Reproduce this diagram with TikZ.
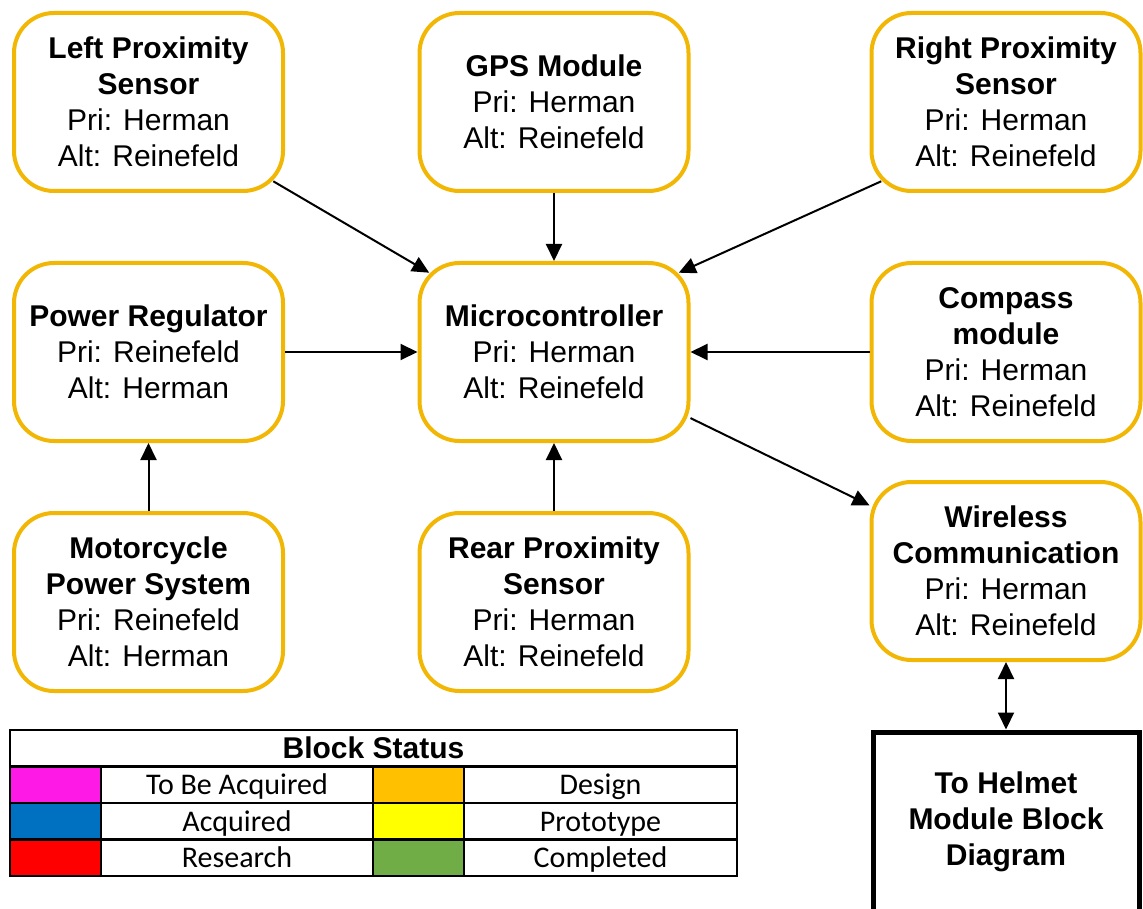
\documentclass[tikz,border=0pt]{standalone}
\usepackage{fontspec}
\setmainfont{Liberation Sans}
\newfontfamily\calib{Carlito}
\usetikzlibrary{arrows.meta,calc}
\definecolor{gold}{RGB}{242,183,5}
\definecolor{stmag}{RGB}{255,25,230}
\definecolor{stblue}{RGB}{0,112,192}
\definecolor{stred}{RGB}{255,0,0}
\definecolor{storange}{RGB}{255,192,0}
\definecolor{styellow}{RGB}{255,255,0}
\definecolor{stgreen}{RGB}{112,173,71}
\begin{document}
\begin{tikzpicture}[x=1pt,y=-1pt,
  blk/.style={draw=gold, line width=4pt, rounded corners=40pt, fill=white,
    minimum width=269pt, minimum height=178pt, align=center, inner sep=0pt,
    font=\fontsize{30}{36}\selectfont},
  con/.style={line width=2pt, -{Triangle[length=17pt,width=16pt]}},
  bicon/.style={line width=2pt, {Triangle[length=17pt,width=16pt]}-{Triangle[length=17pt,width=16pt]}},
  cell/.style={draw=black, line width=2.5pt, outer sep=0pt, inner sep=0pt, anchor=north west,
    minimum height=36.5pt, text height=23pt, text depth=3pt, font=\calib\fontsize{30}{36}\selectfont},
  hm/.style={draw=black, line width=5pt, fill=white, minimum width=266pt, minimum height=180pt,
    align=center, inner sep=0pt, font=\bfseries\fontsize{30}{36}\selectfont}
]
\useasboundingbox (0,0) rectangle (1143,909);
\clip (0,0) rectangle (1143,909);

% blocks
\node[blk] (lp) at (148.5,102) {\textbf{Left Proximity}\\\textbf{Sensor}\\Pri: Herman\\Alt: Reinefeld};
\node[blk] (gps) at (554,102) {\textbf{GPS Module}\\Pri: Herman\\Alt: Reinefeld};
\node[blk] (rp) at (1006,102) {\textbf{Right Proximity}\\\textbf{Sensor}\\Pri: Herman\\Alt: Reinefeld};
\node[blk] (pr) at (148.5,352) {\textbf{Power Regulator}\\Pri: Reinefeld\\Alt: Herman};
\node[blk] (mc) at (554,352) {\textbf{Microcontroller}\\Pri: Herman\\Alt: Reinefeld};
\node[blk] (cm) at (1006,352) {\textbf{Compass}\\\textbf{module}\\Pri: Herman\\Alt: Reinefeld};
\node[blk] (mp) at (148.5,602) {\textbf{Motorcycle}\\\textbf{Power System}\\Pri: Reinefeld\\Alt: Herman};
\node[blk] (rr) at (554,602) {\textbf{Rear Proximity}\\\textbf{Sensor}\\Pri: Herman\\Alt: Reinefeld};
\node[blk] (wl) at (1006,571) {\textbf{Wireless}\\\textbf{Communication}\\Pri: Herman\\Alt: Reinefeld};
\node[hm] (hb) at (1006,822) {To Helmet\\Module Block\\Diagram};

% connectors
\draw[con] ($(lp.south east)+(-11.7,-11.7)$) -- ($(mc.north west)+(11.7,11.7)$);
\draw[con] (gps) -- (mc);
\draw[con] ($(rp.south west)+(11.7,-11.7)$) -- ($(mc.north east)+(-11.7,11.7)$);
\draw[con] (pr) -- (mc);
\draw[con] (cm) -- (mc);
\draw[con] (rr) -- (mc);
\draw[con] (mp) -- (pr);
\draw[con] (mc) -- (wl);
\draw[bicon] (wl) -- (hb);

% status table
\node[cell, minimum width=727pt, font=\bfseries\fontsize{30}{36}\selectfont] (th) at (10,730) {Block Status};
\node[cell, fill=stmag, minimum width=91pt] (a1) at (10,766.5) {};
\node[cell, minimum width=272pt] (a2) at (101,766.5) {To Be Acquired};
\node[cell, fill=storange, minimum width=91pt] (a3) at (373,766.5) {};
\node[cell, minimum width=273pt] (a4) at (464,766.5) {Design};
\node[cell, fill=stblue, minimum width=91pt] (b1) at (10,803) {};
\node[cell, minimum width=272pt] (b2) at (101,803) {Acquired};
\node[cell, fill=styellow, minimum width=91pt] (b3) at (373,803) {};
\node[cell, minimum width=273pt] (b4) at (464,803) {Prototype};
\node[cell, fill=stred, minimum width=91pt] (c1) at (10,839.5) {};
\node[cell, minimum width=272pt] (c2) at (101,839.5) {Research};
\node[cell, fill=stgreen, minimum width=91pt] (c3) at (373,839.5) {};
\node[cell, minimum width=273pt] (c4) at (464,839.5) {Completed};
\end{tikzpicture}
\end{document}
